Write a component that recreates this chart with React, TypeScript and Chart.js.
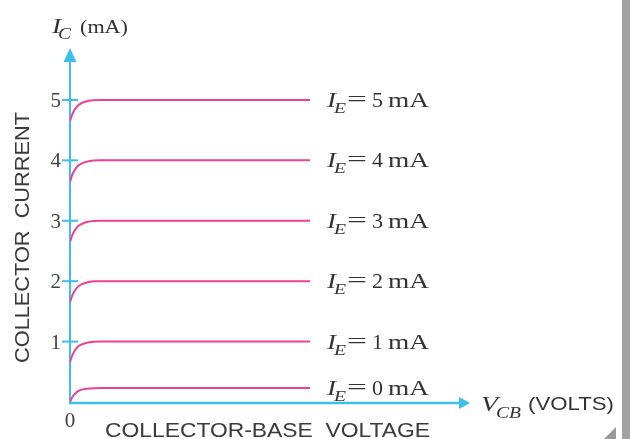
import React, { useEffect, useRef } from 'react';
import { Chart, registerables } from 'chart.js';

Chart.register(...registerables);

// Emitter current levels (mA) shown as curve labels
const emitterCurrents = [0, 1, 2, 3, 4, 5];
// V_CB sample points (arbitrary volts along the axis)
const vcbPoints = [0, 0.05, 0.1, 0.15, 0.2, 0.3, 0.4, 0.5, 0.6, 0.75, 6.0];
// Collector current (mA) per emitter current
const icIE0 = [0, 0.07, 0.12, 0.155, 0.18, 0.205, 0.218, 0.225, 0.229, 0.23, 0.23];
const icIE1 = [0.66, 0.76, 0.83, 0.88, 0.92, 0.955, 0.975, 0.99, 0.997, 1, 1];
const icIE2 = [1.65, 1.75, 1.82, 1.87, 1.91, 1.95, 1.975, 1.99, 1.997, 2, 2];
const icIE3 = [2.65, 2.75, 2.82, 2.87, 2.91, 2.95, 2.975, 2.99, 2.997, 3, 3];
const icIE4 = [3.64, 3.75, 3.82, 3.87, 3.91, 3.95, 3.975, 3.99, 3.997, 4, 4];
const icIE5 = [4.65, 4.75, 4.82, 4.87, 4.91, 4.95, 4.975, 4.99, 4.997, 5, 5];
const seriesValues = [icIE0, icIE1, icIE2, icIE3, icIE4, icIE5];
// Axis tick labels
const yTickValues = [1, 2, 3, 4, 5];
const xTickLabels = ['0'];

const AXIS = '#3dbfee';
const PINK = '#ec3f97';
const TEXT = '#333333';
const SERIF = '"Liberation Serif", "Times New Roman", serif';
const SANS = '"Liberation Sans", Arial, sans-serif';

function fitText(ctx: CanvasRenderingContext2D, text: string, x: number, y: number, width: number) {
  const w = ctx.measureText(text).width;
  ctx.save();
  ctx.translate(x, y);
  ctx.scale(width / w, 1);
  ctx.textAlign = 'left';
  ctx.fillText(text, 0, 0);
  ctx.restore();
}

const decorPlugin = {
  id: 'decor',
  beforeDatasetsDraw(chart: any) {
    const ctx: CanvasRenderingContext2D = chart.ctx;
    const xs = chart.scales.x;
    const ys = chart.scales.y;
    const x0 = xs.getPixelForValue(0);
    const y0 = ys.getPixelForValue(0);
    const yTop = ys.getPixelForValue(ys.max);
    const xEnd = xs.getPixelForValue(xs.max);
    ctx.save();
    ctx.strokeStyle = AXIS;
    ctx.fillStyle = AXIS;
    // y axis
    ctx.lineWidth = 2;
    ctx.beginPath();
    ctx.moveTo(x0, y0 + 1);
    ctx.lineTo(x0, yTop + 12);
    ctx.stroke();
    ctx.beginPath();
    ctx.moveTo(x0, yTop);
    ctx.lineTo(x0 - 6.5, yTop + 14);
    ctx.lineTo(x0 + 6.5, yTop + 14);
    ctx.closePath();
    ctx.fill();
    // x axis
    ctx.lineWidth = 2.5;
    ctx.beginPath();
    ctx.moveTo(x0 - 1, y0 + 1);
    ctx.lineTo(xEnd - 9, y0 + 1);
    ctx.stroke();
    ctx.beginPath();
    ctx.moveTo(xEnd, y0 + 1);
    ctx.lineTo(xEnd - 11, y0 + 1 - 6);
    ctx.lineTo(xEnd - 11, y0 + 1 + 6);
    ctx.closePath();
    ctx.fill();
    // tick marks
    ctx.lineWidth = 2;
    yTickValues.forEach((v) => {
      const py = ys.getPixelForValue(v);
      ctx.beginPath();
      ctx.moveTo(x0 - 8, py);
      ctx.lineTo(x0 + 8, py);
      ctx.stroke();
    });
    ctx.restore();
  },
  afterDraw(chart: any) {
    const ctx: CanvasRenderingContext2D = chart.ctx;
    const xs = chart.scales.x;
    const ys = chart.scales.y;
    const x0 = xs.getPixelForValue(0);
    const y0 = ys.getPixelForValue(0);
    ctx.save();
    // y tick labels
    ctx.fillStyle = '#444';
    ctx.font = `21px ${SERIF}`;
    ctx.textAlign = 'right';
    ctx.textBaseline = 'alphabetic';
    yTickValues.forEach((v) => {
      ctx.fillText(String(v), x0 - 9, ys.getPixelForValue(v) + 7);
    });
    // x tick label "0"
    ctx.textAlign = 'center';
    xTickLabels.forEach((t) => ctx.fillText(t, x0, y0 + 25));

    // curve labels, at each curve's flat level
    const lx = xs.getPixelForValue(6.425);
    emitterCurrents.forEach((ie, i) => {
      const vals = seriesValues[i];
      const b = ys.getPixelForValue(vals[vals.length - 1]) + 7;
      ctx.textAlign = 'left';
      ctx.fillStyle = TEXT;
      ctx.font = `italic 21px ${SERIF}`;
      fitText(ctx, 'I', lx, b, 9);
      ctx.font = `italic 15px ${SERIF}`;
      fitText(ctx, 'E', lx + 7, b + 6, 12);
      ctx.font = `21px ${SERIF}`;
      fitText(ctx, '=', lx + 20, b - 1, 20);
      fitText(ctx, String(ie), lx + 45, b, 11);
      fitText(ctx, 'mA', lx + 61, b, 41);
    });

    // I_C (mA)
    ctx.fillStyle = TEXT;
    ctx.font = `italic 20px ${SERIF}`;
    fitText(ctx, 'I', 52, 33, 9);
    ctx.font = `italic 16px ${SERIF}`;
    fitText(ctx, 'C', 58, 39, 13);
    ctx.font = `18px ${SERIF}`;
    fitText(ctx, '(mA)', 80, 33, 48);

    // V_CB (VOLTS)
    ctx.font = `italic 21px ${SERIF}`;
    fitText(ctx, 'V', 481, 411, 17);
    ctx.font = `italic 16px ${SERIF}`;
    fitText(ctx, 'CB', 496, 418, 25);
    ctx.font = `18px ${SANS}`;
    fitText(ctx, '(VOLTS)', 528, 410, 86);

    // axis titles
    ctx.fillStyle = '#3a3a3a';
    ctx.font = `21px ${SANS}`;
    fitText(ctx, 'COLLECTOR-BASE  VOLTAGE', 105, 437, 325);
    ctx.save();
    ctx.translate(29, 363);
    ctx.rotate(-Math.PI / 2);
    fitText(ctx, 'COLLECTOR  CURRENT', 0, 0, 251);
    ctx.restore();

    // page edge decoration
    ctx.fillStyle = '#a2a2a2';
    ctx.fillRect(622, 0, 8, 439);
    ctx.fillStyle = '#9a9a9a';
    ctx.beginPath();
    ctx.moveTo(604, 439);
    ctx.lineTo(616, 427);
    ctx.lineTo(616, 439);
    ctx.closePath();
    ctx.fill();
    ctx.restore();
  },
};

export default function App() {
  const ref = useRef<HTMLCanvasElement | null>(null);
  useEffect(() => {
    document.body.style.margin = '0';
    const canvas = ref.current;
    if (!canvas) return;
    const chart = new Chart(canvas, {
      type: 'line',
      data: {
        datasets: seriesValues.map((vals, i) => ({
          label: `IE = ${emitterCurrents[i]} mA`,
          data: vals.map((v, j) => ({ x: vcbPoints[j], y: v })),
          borderColor: PINK,
          borderWidth: 2,
          pointRadius: 0,
          fill: false,
          cubicInterpolationMode: 'monotone' as const,
        })),
      },
      options: {
        responsive: false,
        animation: false,
        devicePixelRatio: 1,
        layout: { padding: { left: 70, right: 160, top: 48, bottom: 37 } },
        plugins: { legend: { display: false }, tooltip: { enabled: false } },
        scales: {
          x: { type: 'linear', min: 0, max: 10, display: false },
          y: { type: 'linear', min: 0, max: 5.86, display: false },
        },
      },
      plugins: [decorPlugin],
    });
    return () => chart.destroy();
  }, []);
  return (
    <div style={{ width: 630, height: 439, background: '#fff' }}>
      <canvas ref={ref} width={630} height={439} style={{ display: 'block' }} />
    </div>
  );
}
